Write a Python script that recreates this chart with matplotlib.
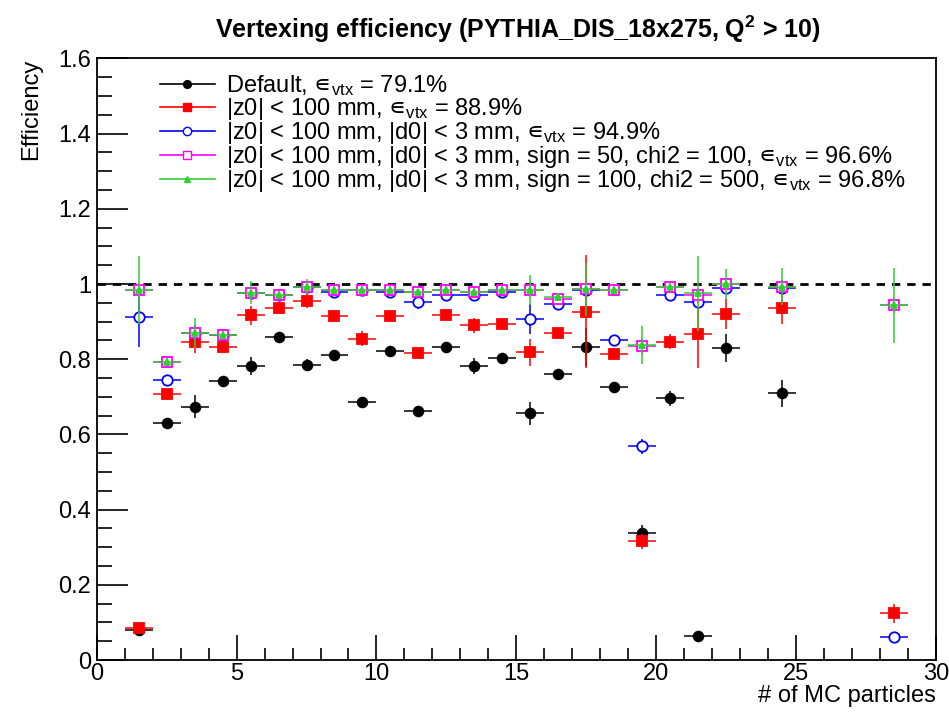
"Vertexing efficiency vs number of MC particles, ROOT-like style"

import numpy as np
import matplotlib
matplotlib.use('Agg')
import matplotlib.pyplot as plt
from matplotlib.lines import Line2D
from matplotlib.ticker import MultipleLocator

plt.rcParams['font.family'] = ['Liberation Sans', 'DejaVu Sans']
plt.rcParams['mathtext.fontset'] = 'custom'
plt.rcParams['mathtext.rm'] = 'Liberation Sans'
plt.rcParams['mathtext.it'] = 'Liberation Sans'
plt.rcParams['mathtext.bf'] = 'Liberation Sans:bold'
plt.rcParams['mathtext.sf'] = 'DejaVu Sans'
plt.rcParams['mathtext.fallback'] = 'stixsans'

# bin centres (# of MC particles)
x_black = [1.5, 2.5, 3.5, 4.5, 5.5, 6.5, 7.5, 8.5, 9.5, 10.5, 11.5, 12.5,
           13.5, 14.5, 15.5, 16.5, 17.5, 18.5, 19.5, 20.5, 21.5, 22.5, 24.5]
y_black = [0.08, 0.631, 0.674, 0.742, 0.782, 0.860, 0.785, 0.811, 0.685,
           0.823, 0.662, 0.833, 0.782, 0.802, 0.656, 0.761, 0.832, 0.725,
           0.339, 0.696, 0.065, 0.831, 0.709]
e_black = [0.01, 0.01, 0.03, 0.01, 0.025, 0.01, 0.015, 0.01, 0.01, 0.01,
           0.01, 0.01, 0.02, 0.01, 0.03, 0.01, 0.05, 0.01, 0.02, 0.02,
           0.01, 0.037, 0.037]

x_red = [1.5, 2.5, 3.5, 4.5, 5.5, 6.5, 7.5, 8.5, 9.5, 10.5, 11.5, 12.5,
         13.5, 14.5, 15.5, 16.5, 17.5, 18.5, 19.5, 20.5, 21.5, 22.5, 24.5,
         28.5]
y_red = [0.085, 0.707, 0.847, 0.832, 0.917, 0.937, 0.955, 0.915, 0.854,
         0.915, 0.816, 0.918, 0.891, 0.893, 0.818, 0.869, 0.926, 0.813,
         0.316, 0.847, 0.866, 0.920, 0.935, 0.124]
e_red = [0.01, 0.01, 0.03, 0.01, 0.025, 0.01, 0.02, 0.01, 0.02, 0.01, 0.01,
         0.01, 0.02, 0.01, 0.035, 0.01, 0.15, 0.01, 0.02, 0.02, 0.09, 0.04,
         0.04, 0.025]

x_blue = [1.5, 2.5, 3.5, 4.5, 5.5, 6.5, 7.5, 8.5, 9.5, 10.5, 11.5, 12.5,
          13.5, 14.5, 15.5, 16.5, 17.5, 18.5, 19.5, 20.5, 21.5, 22.5, 24.5,
          28.5]
y_blue = [0.913, 0.745, 0.870, 0.864, 0.977, 0.971, 0.993, 0.980, 0.984,
          0.980, 0.953, 0.971, 0.971, 0.980, 0.907, 0.947, 0.984, 0.851,
          0.569, 0.971, 0.953, 0.990, 0.990, 0.060]
e_blue = [0.08, 0.01, 0.02, 0.01, 0.01, 0.01, 0.01, 0.01, 0.01, 0.01, 0.02,
          0.015, 0.015, 0.015, 0.04, 0.015, 0.02, 0.01, 0.02, 0.015, 0.02,
          0.015, 0.02, 0.01]

x_mag = [1.5, 2.5, 3.5, 4.5, 5.5, 6.5, 7.5, 8.5, 9.5, 10.5, 11.5, 12.5,
         13.5, 14.5, 15.5, 16.5, 17.5, 18.5, 19.5, 20.5, 21.5, 22.5, 24.5,
         28.5]
y_mag = [0.984, 0.792, 0.870, 0.864, 0.977, 0.971, 0.993, 0.984, 0.984,
         0.984, 0.978, 0.984, 0.980, 0.984, 0.985, 0.960, 0.986, 0.984,
         0.835, 0.993, 0.970, 1.000, 0.993, 0.944]
e_mag = [0.02, 0.01, 0.02, 0.01, 0.01, 0.01, 0.01, 0.01, 0.01, 0.01, 0.01,
         0.01, 0.01, 0.01, 0.02, 0.01, 0.02, 0.01, 0.02, 0.01, 0.02, 0.01,
         0.01, 0.02]

x_green = [1.5, 2.5, 3.5, 4.5, 5.5, 6.5, 7.5, 8.5, 9.5, 10.5, 11.5, 12.5,
           13.5, 14.5, 15.5, 16.5, 17.5, 18.5, 19.5, 20.5, 21.5, 22.5, 24.5,
           28.5]
y_green = [0.984, 0.792, 0.870, 0.864, 0.977, 0.971, 0.993, 0.984, 0.984,
           0.984, 0.978, 0.984, 0.980, 0.984, 0.985, 0.965, 0.986, 0.984,
           0.838, 0.993, 0.975, 1.000, 0.993, 0.944]
e_green = [0.09, 0.01, 0.04, 0.01, 0.03, 0.01, 0.02, 0.01, 0.01, 0.01, 0.01,
           0.01, 0.01, 0.01, 0.04, 0.01, 0.07, 0.01, 0.05, 0.01, 0.10, 0.04,
           0.05, 0.10]

eps = '$\\mathsf{\u220a}_{\\mathrm{vtx}}$'
labels = ['Default, ' + eps + ' = 79.1%',
          '|z0| < 100 mm, ' + eps + ' = 88.9%',
          '|z0| < 100 mm, |d0| < 3 mm, ' + eps + ' = 94.9%',
          '|z0| < 100 mm, |d0| < 3 mm, sign = 50, chi2 = 100, ' + eps
          + ' = 96.6%',
          '|z0| < 100 mm, |d0| < 3 mm, sign = 100, chi2 = 500, ' + eps
          + ' = 96.8%']

series = [
    (x_black, y_black, e_black, 'black', 'o', 'black', 7),
    (x_red, y_red, e_red, 'red', 's', 'red', 7.5),
    (x_blue, y_blue, e_blue, 'blue', 'o', 'white', 7.5),
    (x_mag, y_mag, e_mag, 'magenta', 's', 'white', 7.5),
    (x_green, y_green, e_green, '#33cc33', '^', '#33cc33', 5),
]

fig = plt.figure(figsize=(9.49, 7.13), dpi=100)
ax = fig.add_axes([0.102, 0.0743, 0.884, 0.8437])

ax.axhline(1.0, color='black', linestyle=(0, (3, 2.5)), linewidth=2, zorder=1)

handles = []
for i, (xs, ys, es, col, mk, fc, ms) in enumerate(series):
    ax.errorbar(xs, ys, yerr=es, xerr=0.5, fmt=mk, color=col, ecolor=col,
                markerfacecolor=fc, markeredgecolor=col, markersize=ms,
                markeredgewidth=1.3, elinewidth=1.1, capsize=0,
                zorder=3 + i)
    handles.append(Line2D([], [], color=col, marker=mk, markersize=ms * 0.8,
                          markerfacecolor=fc, markeredgecolor=col,
                          linewidth=1.2))

ax.set_xlim(0, 30)
ax.set_ylim(0, 1.6)
ax.xaxis.set_major_locator(MultipleLocator(5))
ax.xaxis.set_minor_locator(MultipleLocator(1))
ax.yaxis.set_minor_locator(MultipleLocator(0.05))
ax.set_yticks(np.arange(0, 1.61, 0.2))
ax.set_yticklabels(['0', '0.2', '0.4', '0.6', '0.8', '1', '1.2', '1.4', '1.6'])
ax.tick_params(which='both', direction='in', top=False, right=False,
               labelsize=17, width=1.2)
ax.tick_params(which='major', length=18)
ax.tick_params(which='minor', length=9)
ax.tick_params(axis='x', which='major', pad=2.5)
ax.tick_params(axis='y', which='major', length=22, pad=4)
ax.tick_params(axis='y', which='minor', length=11)
for sp in ax.spines.values():
    sp.set_linewidth(1.3)

ax.set_xlabel('# of MC particles', fontsize=17, loc='right')
ax.xaxis.set_label_coords(1.0, -0.042)
ax.set_ylabel('Efficiency', fontsize=17, loc='top', labelpad=12)

fig.text(0.546, 0.959,
         r'Vertexing efficiency (PYTHIA_DIS_18x275, Q$^{\mathbf{2}}$ > 10)',
         ha='center', va='center', fontsize=18, fontweight='bold')

ax.legend(handles, labels, loc='upper left', bbox_to_anchor=(0.075, 0.975),
          frameon=False, fontsize=17, handlelength=2.33, handletextpad=0.47,
          labelspacing=-0.085, borderaxespad=0, borderpad=0)

fig.savefig('out.png', dpi=100)
